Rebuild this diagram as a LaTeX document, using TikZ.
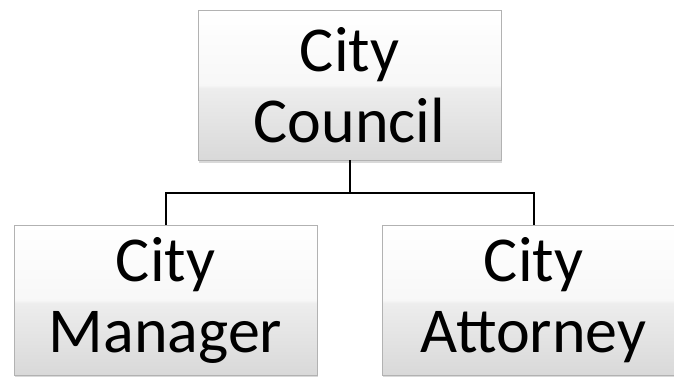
\documentclass[tikz,border=0pt]{standalone}
\usepackage{fontspec}
\setmainfont{Carlito}
\usepackage{tikz}
\usetikzlibrary{trees,shadows}

\pgfdeclareverticalshading{boxfill}{100bp}{color(0bp)=(black!15); color(25bp)=(black!15); color(49bp)=(black!7); color(50bp)=(black!3); color(75bp)=(white); color(100bp)=(white)}

\begin{document}
\begin{tikzpicture}[every node/.style = { draw = black!30, align = center, shape = rectangle,
      minimum width = 303pt, minimum height = 150pt, inner sep = 0pt,
      shading = boxfill, drop shadow = {opacity = .3, shadow xshift = 1pt, shadow yshift = -2.5pt},
      font = \fontsize{64}{71}\selectfont },
    level distance = 215pt, sibling distance = 368pt,
    edge from parent/.style = { draw, black, line width = 2pt },
    edge from parent fork down]
    \useasboundingbox (0,0) rectangle (674pt,-376pt);
    \clip (0,0) rectangle (674pt,-376pt);
    \node (council) at (349.5pt,-85pt) { City\\ Council }
      child { node (manager) { City\\ Manager } }
      child { node (attorney) { City\\ Attorney } };

    \end{tikzpicture}
\end{document}
